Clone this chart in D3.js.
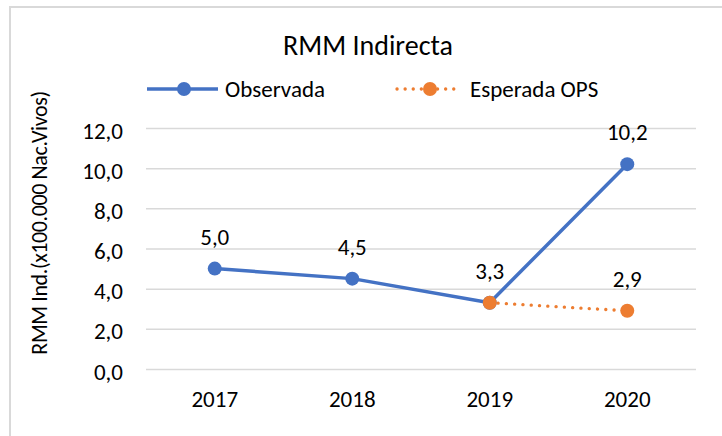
<!DOCTYPE html>
<html>
<head>
<meta charset="utf-8">
<script src="https://cdn.jsdelivr.net/npm/d3@7"></script>
<style>
  body { margin: 0; background: #fff; }
  svg text { font-family: Carlito, "Open Sans", "Liberation Sans", sans-serif; fill: #000; }
</style>
</head>
<body>
<div id="chart"></div>
<script>
const years = ['2017', '2018', '2019', '2020'];
const observada = [5.0, 4.5, 3.3, 10.2];
const esperada = [null, null, 3.3, 2.9];
const yTicks = [0, 2, 4, 6, 8, 10, 12];

const W = 722, H = 436;
const blue = '#4472C4', orange = '#ED7D31';
const fmt = v => d3.format('.1f')(v).replace('.', ',');

const svg = d3.select('#chart').append('svg').attr('width', W).attr('height', H);
svg.append('rect').attr('x', 10).attr('y', 7).attr('width', W + 10).attr('height', H + 10)
    .attr('fill', '#fff').attr('stroke', '#d9d9d9').attr('stroke-width', 2);

const x = d3.scaleBand().domain(years).range([146, 696]);
const y = d3.scaleLinear().domain([0, 12]).range([369, 128]);
const cx = d => x(d) + x.bandwidth() / 2;

// gridlines
svg.append('g').selectAll('line').data(yTicks).enter().append('line')
    .attr('x1', 146).attr('x2', 696)
    .attr('y1', d => y(d) + 0.5).attr('y2', d => y(d) + 0.5)
    .attr('stroke', '#d9d9d9').attr('stroke-width', 1.5);

// y axis
const yAxis = svg.append('g').attr('transform', 'translate(123,0)')
    .call(d3.axisLeft(y).tickValues(yTicks).tickSize(0).tickPadding(0).tickFormat(fmt));
yAxis.select('.domain').remove();
yAxis.selectAll('text').style('font-size', '23px').attr('dy', '10px').attr('fill', '#000');

// x axis
const xAxis = svg.append('g').attr('transform', 'translate(0,369)')
    .call(d3.axisBottom(x).tickSize(0));
xAxis.select('.domain').remove();
xAxis.selectAll('text').style('font-size', '23px').attr('y', 38).attr('dy', 0).attr('fill', '#000');

// title
svg.append('text').attr('x', 368).attr('y', 55).attr('text-anchor', 'middle')
    .style('font-size', '28px').text('RMM Indirecta');

// y label
svg.append('text').attr('transform', 'translate(47,223) rotate(-90)').attr('text-anchor', 'middle')
    .style('font-size', '22px').style('font-weight', 300).style('letter-spacing', '-0.4px')
    .text('RMM Ind.(x100.000 Nac.Vivos)');

// lines
const line = d3.line().defined(d => d.v != null).x(d => cx(d.k)).y(d => y(d.v));
const obs = years.map((k, i) => ({ k, v: observada[i] }));
const esp = years.map((k, i) => ({ k, v: esperada[i] }));

svg.append('path').datum(obs).attr('d', line).attr('fill', 'none')
    .attr('stroke', blue).attr('stroke-width', 3.5).attr('stroke-linejoin', 'round');
svg.append('g').selectAll('circle').data(obs).enter().append('circle')
    .attr('cx', d => cx(d.k)).attr('cy', d => y(d.v)).attr('r', 7).attr('fill', blue);

svg.append('path').datum(esp).attr('d', line).attr('fill', 'none')
    .attr('stroke', orange).attr('stroke-width', 3.3).attr('stroke-linecap', 'round')
    .attr('stroke-dasharray', '0.1,8.2');
svg.append('g').selectAll('circle').data(esp.filter(d => d.v != null)).enter().append('circle')
    .attr('cx', d => cx(d.k)).attr('cy', d => y(d.v)).attr('r', 7).attr('fill', orange);

// data labels
const labels = obs.filter((d, i) => esperada[i] == null || d.v !== esperada[i]).concat(esp.filter(d => d.v != null));
svg.append('g').selectAll('text').data(labels).enter().append('text')
    .attr('x', d => cx(d.k)).attr('y', d => y(d.v) - 24).attr('text-anchor', 'middle')
    .style('font-size', '23px').text(d => fmt(d.v));

// legend
const lg = svg.append('g');
lg.append('line').attr('x1', 147).attr('x2', 218).attr('y1', 89).attr('y2', 89)
    .attr('stroke', blue).attr('stroke-width', 3.5);
lg.append('circle').attr('cx', 184).attr('cy', 89).attr('r', 7).attr('fill', blue);
lg.append('text').attr('x', 225).attr('y', 96.5).style('font-size', '23px').text('Observada');
lg.append('line').attr('x1', 397).attr('x2', 457).attr('y1', 89).attr('y2', 89)
    .attr('stroke', orange).attr('stroke-width', 3.3).attr('stroke-linecap', 'round')
    .attr('stroke-dasharray', '0.1,8');
lg.append('circle').attr('cx', 430).attr('cy', 89).attr('r', 7).attr('fill', orange);
lg.append('text').attr('x', 470).attr('y', 96.5).style('font-size', '23px').text('Esperada OPS');
</script>
</body>
</html>
